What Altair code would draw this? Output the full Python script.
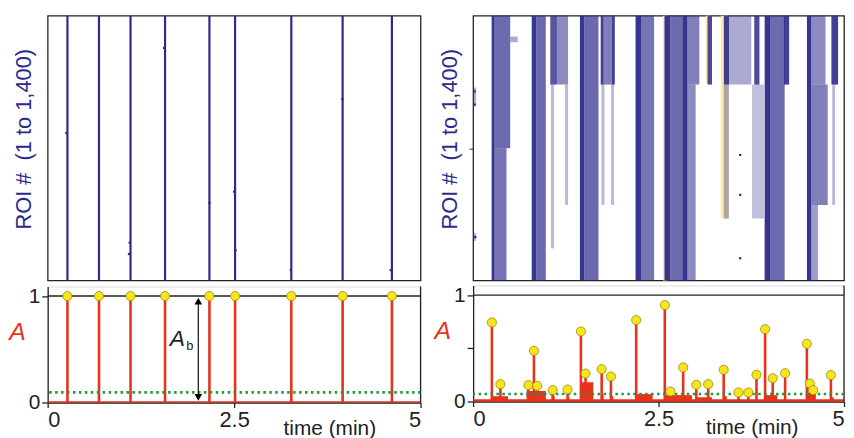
import altair as alt
import pandas as pd

BLUE = "#2d2a8b"
RED = "#e8321c"
YELLOW = "#f7e51b"
YELLOW_EDGE = "#9a8a12"
GREEN = "#1f9a3d"
HILITE = "#fbe7a6"
INK = "#222222"
FONT = "Liberation Sans"

# ---------------- left column: synchronous activity ----------------
left_event_t = [0.265, 0.688, 1.111, 1.574, 2.169, 2.513, 3.267, 3.955, 4.616]
left_event_a = [1.0, 1.0, 1.0, 1.0, 1.0, 1.0, 1.0, 1.0, 1.0]
left_stray_t = [0.25, 1.10, 1.09, 1.56, 2.17, 2.50, 2.52, 3.26, 3.95, 4.60]
left_stray_roi = [620, 1200, 1260, 170, 990, 930, 1240, 1345, 440, 1345]
left_threshold = [0.095]
arrow_t = [2.02]
arrow_lo = [0.06]
arrow_hi = [0.94]
arrow_head_up = [0.952]
arrow_head_down = [0.048]
ab_main = ["A"]
ab_main_t = [1.74]
ab_main_a = [0.60]
ab_sub = ["b"]
ab_sub_t = [1.905]
ab_sub_a = [0.53]

# ---------------- right column: asynchronous activity ----------------
right_peak_t = [0.253, 0.368, 0.745, 0.820, 0.864, 1.073, 1.273, 1.453, 1.516, 1.733,
                1.858, 2.198, 2.584, 2.660, 2.832, 3.009, 3.169, 3.378, 3.577, 3.710,
                3.820, 3.936, 4.039, 4.206, 4.499, 4.539, 4.584, 4.823]
right_peak_a = [0.743, 0.163, 0.154, 0.476, 0.147, 0.107, 0.113, 0.658, 0.263, 0.304,
                0.235, 0.765, 0.906, 0.094, 0.320, 0.157, 0.163, 0.298, 0.085, 0.085,
                0.251, 0.680, 0.219, 0.266, 0.542, 0.169, 0.107, 0.248]
right_threshold = [0.07]

# low-amplitude body of the A trace (start, end, height)
shoulder_t0 = [0.0, 0.25, 0.72, 1.06, 1.27, 1.45, 1.72, 1.85, 2.19, 2.58, 3.00, 3.37, 3.93, 4.50, 4.82]
shoulder_t1 = [5.0, 0.47, 0.98, 1.10, 1.30, 1.62, 1.76, 1.89, 2.42, 2.95, 3.22, 3.42, 4.10, 4.62, 4.86]
shoulder_h = [0.022, 0.05, 0.10, 0.05, 0.04, 0.18, 0.06, 0.05, 0.07, 0.06, 0.04, 0.05, 0.06, 0.08, 0.04]

# raster bursts: time span, ROI span, dot density
burst_t0 = [0.25, 0.29, 0.29, 0.50, 0.00, 0.00,
            0.79, 0.85,
            1.04, 1.13, 1.05, 1.24,
            1.44, 1.50,
            1.72, 1.76, 1.87, 1.73, 1.86,
            2.19, 2.27,
            2.58, 2.66, 2.82, 2.89, 2.89,
            3.16,
            3.38, 3.38, 3.45,
            3.79, 3.76,
            3.93, 4.01,
            4.19,
            4.50, 4.56, 4.56, 4.56,
            4.83, 4.84]
burst_t1 = [0.29, 0.50, 0.45, 0.60, 0.04, 0.04,
            0.85, 0.98,
            1.13, 1.28, 1.09, 1.28,
            1.50, 1.69,
            1.76, 1.87, 1.91, 1.77, 1.90,
            2.27, 2.44,
            2.66, 2.82, 2.89, 3.05, 3.00,
            3.22,
            3.45, 3.45, 3.75,
            3.86, 3.92,
            4.01, 4.20,
            4.26,
            4.56, 4.75, 4.78, 4.65,
            4.92, 4.88]
burst_r0 = [0, 0, 700, 110, 380, 1150,
            0, 0,
            0, 0, 364, 364,
            0, 0,
            0, 0, 0, 364, 364,
            0, 0,
            0, 0, 0, 0, 364,
            0,
            0, 364, 0,
            0, 364,
            0, 0,
            0,
            0, 0, 364, 1000,
            0, 364]
burst_r1 = [1400, 700, 1400, 140, 480, 1190,
            1400, 1400,
            364, 364, 1230, 1000,
            1400, 1400,
            364, 364, 364, 1000, 1000,
            1400, 1400,
            1400, 1400, 1400, 364, 1400,
            364,
            364, 1072, 364,
            364, 1072,
            1400, 1400,
            364,
            1400, 364, 1000, 1400,
            364, 1000]
burst_density = [0.95, 0.7, 0.65, 0.4, 0.4, 0.4,
                 0.95, 0.7,
                 0.8, 0.55, 0.33, 0.33,
                 0.95, 0.7,
                 0.9, 0.6, 0.9, 0.33, 0.33,
                 0.95, 0.65,
                 0.95, 0.7, 0.95, 0.6, 0.55,
                 0.85,
                 0.9, 0.35, 0.4,
                 0.85, 0.3,
                 0.95, 0.7,
                 0.9,
                 0.95, 0.55, 0.6, 0.45,
                 0.9, 0.33]

highlight_t0 = [2.56, 3.14, 3.34]
highlight_t1 = [2.62, 3.21, 3.44]
highlight_r0 = [0, 0, 0]
highlight_r1 = [1400, 354, 1072]

right_dot_t = [3.60, 3.60, 3.60, 0.02, 0.02, 0.03]
right_dot_roi = [736, 947, 1282, 400, 470, 1170]

# ---------------- scales / axes ----------------
xs = alt.Scale(domain=[0, 5], nice=False, zero=False)
roi_scale = alt.Scale(domain=[0, 1400], reverse=True, nice=False, zero=False)
a_scale = alt.Scale(domain=[0, 1.09], nice=False, zero=False)

W_L, W_R, H_R, H_T = 376, 374, 267, 117


def roi_axis(ticks):
    kw = dict(title="ROI #\u00a0 (1 to 1,400)", titleColor=BLUE, titleFont=FONT,
              titleFontSize=22, titleFontWeight="normal", titleAngle=270,
              titleX=-24, titleY=124, titleAlign="center", titleBaseline="middle",
              labels=False, domain=False, grid=False)
    if ticks:
        kw.update(values=ticks, ticks=True, tickSize=4, tickColor=INK)
    else:
        kw.update(ticks=False)
    return alt.Axis(**kw)


def a_axis(values, hide_half=False):
    kw = dict(values=values, title="A", titleFontStyle="italic", titleColor=RED,
              titleFont=FONT, titleFontSize=25, titleFontWeight="normal", titleAngle=0,
              titleX=-31, titleY=45, titleAlign="center", titleBaseline="middle",
              labelFont=FONT, labelFontSize=21, labelColor=INK, tickSize=6,
              tickColor=INK, tickWidth=1.3, domainColor=INK, domainWidth=1.3,
              labelPadding=2, grid=False, format="~g")
    if hide_half:
        kw["labelExpr"] = "datum.value == 0.5 ? '' : datum.label"
    return alt.Axis(**kw)


def t_axis(title_x):
    return alt.Axis(values=[0, 2.5, 5], labelExpr="'' + datum.value", title="time (min)",
                    titleFont=FONT, titleFontSize=21, titleFontWeight="normal",
                    titleColor=INK, titleX=title_x, titleY=32, titleAlign="center",
                    titleBaseline="alphabetic", labelFont=FONT, labelFontSize=22,
                    labelColor=INK, tickSize=5, tickColor=INK, tickWidth=1.3,
                    domainColor=INK, domainWidth=1.3, labelPadding=2, grid=False)


def trace(peak_t, peak_a, threshold, ax_vals, hide_half, title_x, width,
          shoulders=None, extra=None):
    xa = t_axis(title_x)
    ya = a_axis(ax_vals, hide_half)
    X = lambda f: alt.X(f, scale=xs, axis=xa)
    Y = lambda f: alt.Y(f, scale=a_scale, axis=ya)
    layers = []
    if shoulders is not None:
        layers.append(alt.Chart(shoulders).mark_rect(color=RED, opacity=1).encode(
            x=X("t0:Q"), x2="t1:Q", y=Y("lo:Q"), y2="hi:Q"))
    peaks = pd.DataFrame({"t": peak_t, "a": peak_a, "base": [0.0] * len(peak_t)})
    layers.append(alt.Chart(pd.DataFrame({"a": [1.0]})).mark_rule(
        color=INK, strokeWidth=1.4).encode(y=Y("a:Q")))
    layers.append(alt.Chart(pd.DataFrame({"t": [5.0]})).mark_rule(
        color=INK, strokeWidth=1.3).encode(x=X("t:Q")))
    layers.append(alt.Chart(peaks).mark_rule(color=RED, strokeWidth=2.6).encode(
        x=X("t:Q"), y=Y("a:Q"), y2="base:Q"))
    layers.append(alt.Chart(pd.DataFrame({"a": threshold})).mark_rule(
        color=GREEN, strokeWidth=2.6, strokeDash=[2.5, 3.5]).encode(y=Y("a:Q")))
    if extra:
        layers.extend(extra(X, Y))
    layers.append(alt.Chart(peaks).mark_point(
        shape="circle", filled=False, fill=YELLOW, fillOpacity=1, stroke=YELLOW_EDGE,
        strokeWidth=0.8, size=85, opacity=1).encode(x=X("t:Q"), y=Y("a:Q")))
    return alt.layer(*layers).properties(width=width, height=H_T)


# ---------------- left column ----------------
raster_l = alt.layer(
    alt.Chart(pd.DataFrame({"t": left_event_t})).mark_rule(
        color=BLUE, strokeWidth=2.2).encode(x=alt.X("t:Q", scale=xs, axis=None)),
    alt.Chart(pd.DataFrame({"t": left_stray_t, "roi": left_stray_roi})).mark_square(
        color=BLUE, size=5, opacity=1).encode(
        x=alt.X("t:Q", scale=xs, axis=None),
        y=alt.Y("roi:Q", scale=roi_scale, axis=roi_axis(None))),
).properties(width=W_L, height=H_R,
             view=alt.ViewBackground(stroke=INK, strokeWidth=1.3))

left_base = pd.DataFrame({"t0": [0.0], "t1": [5.0], "lo": [0.0], "hi": [0.012]})


def left_extra(X, Y):
    arr = pd.DataFrame({"t": arrow_t, "lo": arrow_lo, "hi": arrow_hi,
                        "up": arrow_head_up, "down": arrow_head_down})
    main = pd.DataFrame({"t": ab_main_t, "a": ab_main_a, "s": ab_main})
    sub = pd.DataFrame({"t": ab_sub_t, "a": ab_sub_a, "s": ab_sub})
    return [
        alt.Chart(arr).mark_rule(color=INK, strokeWidth=1.3).encode(
            x=X("t:Q"), y=Y("lo:Q"), y2="hi:Q"),
        alt.Chart(arr).mark_point(shape="triangle-up", filled=True, color="black",
                                  size=60, opacity=1).encode(x=X("t:Q"), y=Y("up:Q")),
        alt.Chart(arr).mark_point(shape="triangle-down", filled=True, color="black",
                                  size=60, opacity=1).encode(x=X("t:Q"), y=Y("down:Q")),
        alt.Chart(main).mark_text(font=FONT, fontSize=23, fontStyle="italic",
                                  color=INK).encode(x=X("t:Q"), y=Y("a:Q"), text="s:N"),
        alt.Chart(sub).mark_text(font=FONT, fontSize=13, color=INK).encode(
            x=X("t:Q"), y=Y("a:Q"), text="s:N"),
    ]


trace_l = trace(left_event_t, left_event_a, left_threshold, [0, 1], False, 284, W_L,
                shoulders=left_base, extra=left_extra)

# ---------------- right column ----------------
bursts = pd.DataFrame({"t0": burst_t0, "t1": burst_t1, "r0": burst_r0,
                       "r1": burst_r1, "op": burst_density})
hil = pd.DataFrame({"t0": highlight_t0, "t1": highlight_t1, "r0": highlight_r0,
                    "r1": highlight_r1})
rdots = pd.DataFrame({"t": right_dot_t, "roi": right_dot_roi})
ra = roi_axis([700])
raster_r = alt.layer(
    alt.Chart(hil).mark_rect(color=HILITE, opacity=1).encode(
        x=alt.X("t0:Q", scale=xs, axis=None), x2="t1:Q",
        y=alt.Y("r0:Q", scale=roi_scale, axis=ra), y2="r1:Q"),
    alt.Chart(bursts).mark_rect(color=BLUE).encode(
        x=alt.X("t0:Q", scale=xs, axis=None), x2="t1:Q",
        y=alt.Y("r0:Q", scale=roi_scale, axis=ra), y2="r1:Q",
        opacity=alt.Opacity("op:Q", scale=None, legend=None)),
    alt.Chart(rdots).mark_square(color=BLUE, size=5, opacity=1).encode(
        x=alt.X("t:Q", scale=xs, axis=None),
        y=alt.Y("roi:Q", scale=roi_scale, axis=ra)),
).properties(width=W_R, height=H_R,
             view=alt.ViewBackground(stroke=INK, strokeWidth=1.3))

shoulders_r = pd.DataFrame({"t0": shoulder_t0, "t1": shoulder_t1,
                            "lo": [0.0] * len(shoulder_t0), "hi": shoulder_h})
trace_r = trace(right_peak_t, right_peak_a, right_threshold, [0, 0.5, 1], True, 281,
                W_R, shoulders=shoulders_r)

left_col = alt.vconcat(raster_l, trace_l, spacing=2)
right_col = alt.vconcat(raster_r, trace_r, spacing=2)

chart = alt.hconcat(left_col, right_col, spacing=11).properties(
    padding={"left": 0, "top": 4, "right": 0, "bottom": 0},
    background="white",
).configure_view(stroke=None).configure(font=FONT)

chart.save("out.html", embed_options={"renderer": "svg", "actions": False})
